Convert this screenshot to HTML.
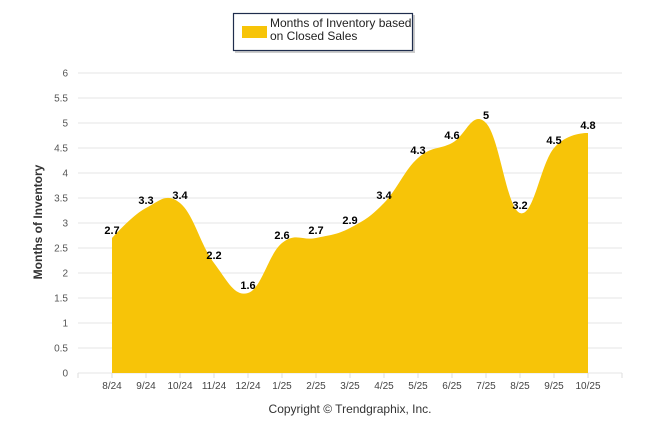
<!DOCTYPE html>
<html><head><meta charset="utf-8"><style>
body{margin:0;background:#fff;}
svg{font-family:"Liberation Sans",Arial,sans-serif;}
</style></head><body>
<svg id="c" width="646" height="434">
  <g>
    <rect x="235" y="15" width="180" height="38" fill="#999" opacity="0.5"/>
    <rect x="233.5" y="13.5" width="179" height="37" fill="#fff" stroke="#1f2d4d" stroke-width="1.2"/>
    <rect x="242" y="26" width="25" height="12" fill="#F7C408"/>
    <text x="270" y="27" font-size="12" fill="#222">Months of Inventory based</text>
    <text x="270" y="40" font-size="12" fill="#222">on Closed Sales</text>
  </g>
  <g id="grid"></g>
  <g id="area"></g>
  <g id="labels"></g>
  <text transform="translate(42,222) rotate(-90)" text-anchor="middle" font-size="12" font-weight="bold" fill="#333">Months of Inventory</text>
  <text x="350" y="413" text-anchor="middle" font-size="12" fill="#333">Copyright © Trendgraphix, Inc.</text>
</svg>
<script>
const categories=["8/24","9/24","10/24","11/24","12/24","1/25","2/25","3/25","4/25","5/25","6/25","7/25","8/25","9/25","10/25"];
const values=[2.7,3.3,3.4,2.2,1.6,2.6,2.7,2.9,3.4,4.3,4.6,5,3.2,4.5,4.8];
const yTicks=[0,0.5,1,1.5,2,2.5,3,3.5,4,4.5,5,5.5,6];
const NS="http://www.w3.org/2000/svg";
const X0=78,STEP=34,Y0=373,YPX=50;
const xs=i=>X0+STEP*(i+1);
const ys=v=>Y0-v*YPX;
function mk(t,a,p){const e=document.createElementNS(NS,t);for(const k in a)e.setAttribute(k,a[k]);p.appendChild(e);return e;}
const grid=document.getElementById('grid');
yTicks.forEach(t=>{
  const l=mk('line',{x1:X0,x2:622,y1:ys(t),y2:ys(t),stroke:'#e6e6e6','stroke-width':1},grid);
  
  
  const tx=mk('text',{x:68,y:ys(t)+3.5,'text-anchor':'end','font-size':10,fill:'#555'},grid);
  tx.textContent=t;
  
  
});
for(let k=0;k<=16;k++){
  const l=mk('line',{x1:X0+STEP*k,x2:X0+STEP*k,y1:Y0,y2:Y0+5,stroke:'#ddd'},grid);
  
  
}
categories.forEach((c,i)=>{
  const tx=mk('text',{x:xs(i),y:Y0+16,'text-anchor':'middle','font-size':10,fill:'#444'},grid);
  tx.textContent=c;
  
  
});
// smooth spline (slight overshoot like reference)
const pts=values.map((v,i)=>[xs(i),ys(v)]);
const sm=1.5,den=sm+1;
function ctrl(i){
  const p=pts[i],a=pts[i-1],b=pts[i+1];
  let lx=(sm*p[0]+a[0])/den,ly=(sm*p[1]+a[1])/den,rx=(sm*p[0]+b[0])/den,ry=(sm*p[1]+b[1])/den;
  let corr=0;
  if(rx!==lx) corr=((ry-ly)*(rx-p[0]))/(rx-lx)+p[1]-ry;
  ly+=corr;ry+=corr;
  return [[lx,ly],[rx,ry]];
}
const cs=pts.map((p,i)=>(i>0&&i<pts.length-1)?ctrl(i):[p,p]);
let d=`M${pts[0][0]},${Y0}L${pts[0][0]},${pts[0][1]}`;
for(let i=1;i<pts.length;i++){
  const c1=cs[i-1][1],c2=cs[i][0];
  d+=`C${c1[0]},${c1[1]} ${c2[0]},${c2[1]} ${pts[i][0]},${pts[i][1]}`;
}
d+=`L${pts[pts.length-1][0]},${Y0}Z`;
const area=mk('path',{d:d,fill:'#F7C408'},document.getElementById('area'));


const lab=document.getElementById('labels');
values.forEach((v,i)=>{
  const t=mk('text',{x:xs(i),y:ys(v)-4,'text-anchor':'middle','font-size':11,'font-weight':'bold',fill:'#000'},lab);
  t.textContent=v;
  
  
});
</script>
</body></html>
